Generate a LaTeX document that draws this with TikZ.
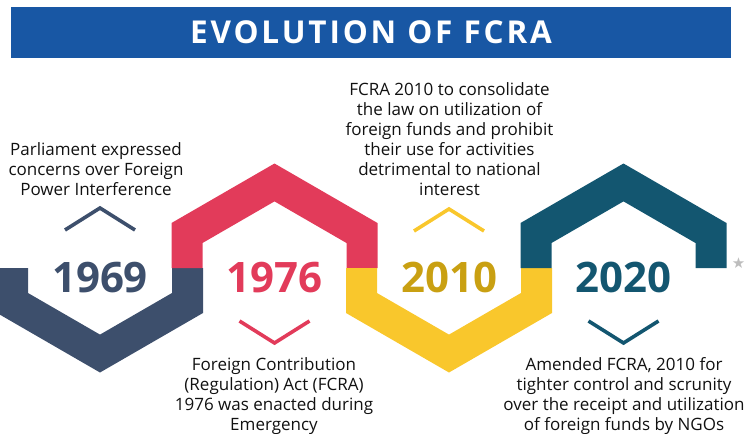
\documentclass[tikz,border=0pt]{standalone}
\usepackage{fontspec}
\setmainfont{Open Sans}
\newfontfamily\symfont{DejaVu Sans}
\newfontfamily\titlefont{Open Sans}[LetterSpace=9]
\definecolor{navyc}{HTML}{3D4F6C}
\definecolor{redc}{HTML}{E23B5A}
\definecolor{yellowc}{HTML}{F9C72C}
\definecolor{goldc}{HTML}{C9A012}
\definecolor{tealc}{HTML}{135670}
\definecolor{bannerc}{HTML}{1857A4}
\definecolor{textc}{HTML}{111111}
\definecolor{starc}{HTML}{BDBDBD}
\tikzset{
  lowring/.pic={
    \path[pic actions] (-103,0) -- (-103,45) -- (0,104.5) -- (103,45) -- (103,0)
      -- (72,0) -- (72,25) -- (0,66.6) -- (-72,25) -- (-72,0) -- cycle;
  },
  upring/.pic={
    \path[pic actions] (-103,0) -- (-103,-45) -- (0,-104.5) -- (103,-45) -- (103,0)
      -- (72,0) -- (72,-25) -- (0,-66.6) -- (-72,-25) -- (-72,0) -- cycle;
  },
  yeartext/.style={font=\bfseries\fontsize{42}{42}\selectfont, anchor=base, inner sep=0pt},
  desc/.style={font=\fontsize{17}{20}\selectfont, text=textc, align=center, anchor=north, inner sep=0pt},
  chev/.style={line width=3.6pt, line cap=butt, line join=miter},
  banner/.style={fill=bannerc, text=white, minimum width=720pt, minimum height=51pt, inner sep=0pt,
    font=\titlefont\bfseries\fontsize{31.5}{31.5}\selectfont},
}
\begin{document}
\begin{tikzpicture}[x=1pt,y=-1pt]
\useasboundingbox (0,0) rectangle (753,434);
% title
\node[banner] (title) at (371,32.5) {EVOLUTION OF FCRA};
% rings
\pic[fill=navyc, draw=none] at (100,268) {lowring};
\pic[fill=redc, draw=none] at (274.5,268) {upring};
\pic[fill=yellowc, draw=none] at (449,268) {lowring};
\pic[fill=tealc, draw=none] at (623.5,268) {upring};
% years
\node[yeartext, text=navyc] (y1969) at (100,292) {1969};
\node[yeartext, text=redc] (y1976) at (274.5,292) {1976};
\node[yeartext, text=goldc] (y2010) at (449,292) {2010};
\node[yeartext, text=tealc] (y2020) at (623.5,292) {2020};
% chevrons
\draw[chev, navyc] (65,230) -- (100,208) -- (135,230);
\draw[chev, redc] (239.5,321) -- (274.5,343) -- (309.5,321);
\draw[chev, yellowc] (414,231) -- (449,209) -- (484,231);
\draw[chev, tealc] (588.5,321) -- (623.5,343) -- (658.5,321);
% descriptions
\node[desc] (d1969) at (96,142) {Parliament expressed\\concerns over Foreign\\Power Interference};
\node[desc] (d2010) at (449.5,82) {FCRA 2010 to consolidate\\the law on utilization of\\foreign funds and prohibit\\their use for activities\\detrimental to national\\interest};
\node[desc] (d1976) at (274,357) {Foreign Contribution\\(Regulation) Act (FCRA)\\1976 was enacted during\\Emergency};
\node[desc] (d2020) at (624,357) {Amended FCRA, 2010 for\\tighter control and scrunity\\over the receipt and utilization\\of foreign funds by NGOs};
% star
\node[font=\symfont\fontsize{15}{15}\selectfont, text=starc, inner sep=0pt] (star) at (738.5,263) {★};
\end{tikzpicture}
\end{document}
